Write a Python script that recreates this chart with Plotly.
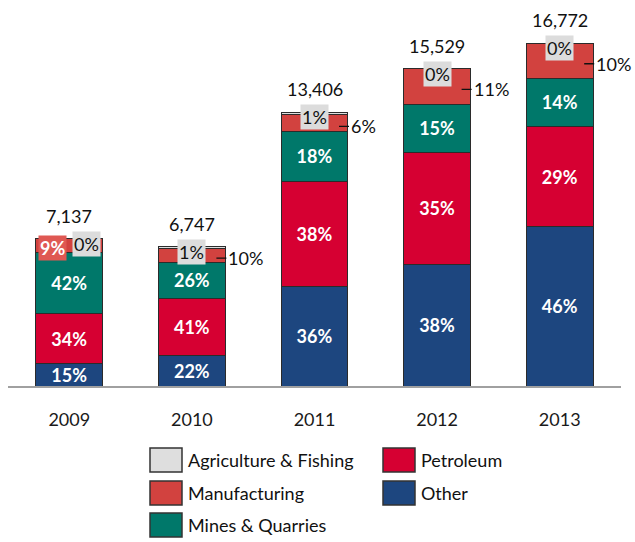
import plotly.graph_objects as go

# Sector shares (%) of total value by year, with totals
years = ["2009", "2010", "2011", "2012", "2013"]
totals = [7137, 6747, 13406, 15529, 16772]

other_pct = [15, 22, 36, 38, 46]
petroleum_pct = [34, 41, 38, 35, 29]
mines_pct = [42, 26, 18, 15, 14]
manufacturing_pct = [9, 10, 6, 11, 10]
agriculture_pct = [0, 1, 1, 0, 0]

FONT = "Lato, 'Open Sans', sans-serif"
OUTLINE = "#2b2b2b"
W, H = 635, 542
M = dict(l=8, r=14, t=20, b=156)

colors = {
    "Other": "#1d467f",
    "Petroleum": "#d60032",
    "Mines & Quarries": "#00786a",
    "Manufacturing": "#d2423f",
    "Agriculture & Fishing": "#dedede",
}
series = [
    ("Other", other_pct),
    ("Petroleum", petroleum_pct),
    ("Mines & Quarries", mines_pct),
    ("Manufacturing", manufacturing_pct),
    ("Agriculture & Fishing", agriculture_pct),
]
inside_labelled = {"Other", "Petroleum", "Mines & Quarries"}


def amounts(pcts):
    return [t * p / 100 for t, p in zip(totals, pcts)]


fig = go.Figure()
for name, pcts in series:
    labelled = name in inside_labelled
    fig.add_trace(go.Bar(
        name=name,
        x=years,
        y=amounts(pcts),
        marker=dict(color=colors[name], line=dict(color=OUTLINE, width=1)),
        text=[f"{p}%" for p in pcts] if labelled else None,
        textposition="inside" if labelled else "none",
        insidetextanchor="middle",
        textangle=0,
        textfont=dict(color="white", size=18, family=FONT, weight="bold"),
        showlegend=False,
        hoverinfo="skip",
    ))

annotations = []
half_bar = 33.5
for i, yr in enumerate(years):
    base = sum(amounts(p)[i] for p in (other_pct, petroleum_pct, mines_pct))
    manu = amounts(manufacturing_pct)[i]
    top = base + manu + amounts(agriculture_pct)[i]

    # total above each bar (x given as category index)
    annotations.append(dict(
        x=i, y=top, text=f"{totals[i]:,}", showarrow=False,
        yanchor="bottom", yshift=10,
        font=dict(size=18, color="#111111", family=FONT),
    ))

    if yr == "2009":
        # narrow stack: manufacturing tag on the left, agriculture on the right
        annotations.append(dict(
            x=i, y=top, text=f"{manufacturing_pct[i]}%", showarrow=False,
            xshift=-17, yshift=-9, bgcolor="#df5853", borderpad=1,
            font=dict(size=18, color="white", family=FONT, weight="bold"),
        ))
        annotations.append(dict(
            x=i, y=top, text=f"{agriculture_pct[i]}%", showarrow=False,
            xshift=17, yshift=-5, bgcolor="#dcdcdc", borderpad=1,
            font=dict(size=18, color="#111111", family=FONT),
        ))
    else:
        annotations.append(dict(
            x=i, y=base + manu / 2, text=f"{manufacturing_pct[i]}%",
            showarrow=True, arrowhead=0, arrowwidth=1.3, arrowcolor="#111111",
            ax=10, ay=0, xanchor="left", xshift=half_bar - 9, yshift=-3,
            font=dict(size=18, color="#111111", family=FONT),
        ))
        annotations.append(dict(
            x=i, y=top, text=f"{agriculture_pct[i]}%", showarrow=False,
            yshift=-5, bgcolor="#dcdcdc", borderpad=1,
            font=dict(size=18, color="#111111", family=FONT),
        ))

# Legend drawn as boxed swatches in two columns below the plot
plot_w = W - M["l"] - M["r"]
plot_h = H - M["t"] - M["b"]


def px_x(px):
    return (px - M["l"]) / plot_w


def px_y(py):
    return (H - M["b"] - py) / plot_h


legend_layout = [
    ("Agriculture & Fishing", 150, 448),
    ("Manufacturing", 150, 481),
    ("Mines & Quarries", 150, 513),
    ("Petroleum", 383, 448),
    ("Other", 383, 481),
]
shapes = []
for name, sx, sy in legend_layout:
    shapes.append(dict(
        type="rect", xref="paper", yref="paper",
        x0=px_x(sx), x1=px_x(sx + 32), y0=px_y(sy + 24), y1=px_y(sy),
        fillcolor=colors[name], line=dict(color="#333333", width=1.5),
    ))
    annotations.append(dict(
        xref="paper", yref="paper", x=px_x(sx + 36), y=px_y(sy + 12),
        xanchor="left", yanchor="middle", showarrow=False, text=name,
        font=dict(size=18, color="#111111", family=FONT),
    ))

fig.update_layout(
    width=W, height=H,
    margin=dict(**M, autoexpand=False),
    barmode="stack",
    bargap=0.455,
    plot_bgcolor="white",
    paper_bgcolor="white",
    font=dict(family=FONT, size=18, color="#111111"),
    uniformtext=dict(minsize=18, mode="show"),
    xaxis=dict(
        type="category", showline=True, linecolor="#a0a0a0", linewidth=1.5,
        showgrid=False, ticks="", ticklabelstandoff=17,
        tickfont=dict(size=18, color="#1a1a1a", family=FONT),
        range=[-0.5, len(years) - 0.5],
    ),
    yaxis=dict(range=[0, 17742], visible=False, showgrid=False),
    annotations=annotations,
    shapes=shapes,
    showlegend=False,
)

fig.write_html("out.html")
